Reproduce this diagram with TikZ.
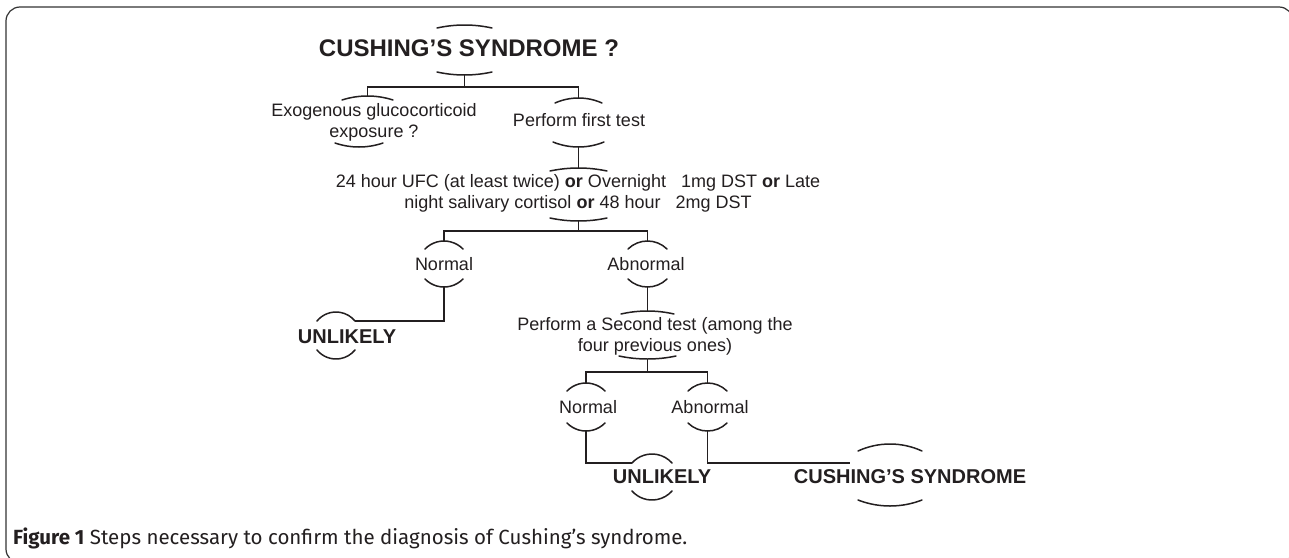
\documentclass[tikz,border=0pt]{standalone}
\usepackage{fontspec}
\setmainfont{Liberation Sans}
\newfontfamily\capfont[Ligatures=TeX]{Fira Sans}
\definecolor{ink}{HTML}{231F20}
\newcommand{\xarc}[4]{%
  \pgfmathsetmacro\xah{(#2-#1)/2}%
  \pgfmathsetmacro\xas{abs(#4-#3)}%
  \pgfmathsetmacro\xar{(\xah*\xah+\xas*\xas)/(2*\xas)}%
  \pgfmathsetmacro\xaa{asin(\xah/\xar)}%
  \pgfmathsetmacro\xab{(#4<#3) ? 270 : 90}%
  \pgfmathsetmacro\xsg{(#4<#3) ? -1 : 1}%
  \draw[arcln] (#1,#3) arc[start angle={\xab+\xsg*\xaa}, end angle={\xab-\xsg*\xaa}, radius=\xar];}
\begin{document}
\begin{tikzpicture}[x=1pt,y=-1pt,
  arcln/.style={line width=1.5pt, line cap=round, ink},
  conn/.style={line width=1.5pt, ink},
  txt/.style={font=\fontsize{18}{21}\selectfont, align=center, inner sep=0pt, text=ink},
  big/.style={font=\bfseries\fontsize{20}{24}\selectfont, inner sep=0pt, text=ink}]
\useasboundingbox (0,0) rectangle (1289,557);
\fill[white] (0,0) rectangle (1289,557);
\draw[line width=1.2pt, black!80, rounded corners=14pt] (6,7) rectangle (1293,563);

% title
\node[font=\bfseries\fontsize{24}{28}\selectfont, inner sep=0pt, text=ink] (title) at (469,48) {CUSHING'S SYNDROME ?};
\xarc{437}{492}{28}{25}
\xarc{437}{492}{72}{75}
\coordinate (tB) at (464.5,75);
\coordinate (j1) at (464.5,87);

% exogenous
\node[txt] (exo) at (374,122.5) {Exogenous glucocorticoid\\exposure ?};
\xarc{342}{393}{100}{96}
\xarc{335}{383}{143}{147}
\coordinate (exoT) at (367.5,96);

% perform first test
\node[txt] (first) at (579,120) {Perform first test};
\xarc{555}{602}{103}{98}
\xarc{553}{604}{142}{147}
\coordinate (firstT) at (578.5,98);
\coordinate (firstB) at (578.5,147);

\draw[conn] (tB) -- (j1);
\draw[conn] (exoT) |- (j1) -| (firstT);

% tests
\xarc{550}{607}{171}{168}
\coordinate (testT) at (578.5,168);
\draw[conn] (firstB) -- (testT);
\node[txt] (tests) at (578,193.5) {24 hour UFC (at least twice) \textbf{or} Overnight~~~1mg DST \textbf{or} Late\\night salivary cortisol \textbf{or} 48 hour~~~2mg DST};
\xarc{550}{607}{218}{221}
\coordinate (testB) at (578.5,221);
\coordinate (j2) at (578.5,231);
\draw[conn] (testB) -- (j2);

% first Normal / Abnormal
\xarc{425}{463}{249}{241}
\coordinate (n1T) at (444,241);
\node[txt] (n1) at (444,264) {Normal};
\xarc{425}{463}{279}{287}
\coordinate (n1B) at (444,287);

\xarc{628}{667}{249}{241}
\coordinate (a1T) at (647.5,241);
\node[txt] (a1) at (646,264) {Abnormal};
\xarc{628}{667}{279}{287}
\coordinate (a1B) at (647.5,287);

\draw[conn] (n1T) |- (j2) -| (a1T);

% left UNLIKELY
\xarc{317}{355}{321}{312}
\coordinate (u1R) at (355,321);
\node[big] (u1) at (347,337) {UNLIKELY};
\xarc{317}{355}{350}{359}
\draw[conn] (n1B) |- (u1R);

% second test
\xarc{621}{674}{314}{311}
\coordinate (s2T) at (647.5,311);
\draw[conn] (a1B) -- (s2T);
\node[txt] (second) at (655,336.5) {Perform a Second test (among the\\four previous ones)};
\xarc{619}{676}{356}{359}
\coordinate (s2B) at (647.5,359);
\coordinate (j3) at (647.5,372);
\draw[conn] (s2B) -- (j3);

% second Normal / Abnormal
\xarc{567}{605}{391}{383}
\coordinate (n2T) at (586,383);
\node[txt] (n2) at (588,407) {Normal};
\xarc{567}{605}{423}{431}
\coordinate (n2B) at (586,431);

\xarc{688}{727}{391}{383}
\coordinate (a2T) at (707.5,383);
\node[txt] (a2) at (710,407) {Abnormal};
\xarc{688}{727}{423}{431}
\coordinate (a2B) at (707.5,431);

\draw[conn] (n2T) |- (j3) -| (a2T);

% bottom UNLIKELY
\xarc{632}{672}{463}{454}
\coordinate (u2L) at (632,463);
\node[big] (u2) at (662,477) {UNLIKELY};
\xarc{632}{672}{491}{500}
\draw[conn] (n2B) |- (u2L);

% final Cushing's syndrome
\xarc{858}{922}{451}{444}
\coordinate (cE) at (850,463);
\node[big] (cs) at (910,477) {CUSHING'S SYNDROME};
\xarc{858}{922}{500}{506}
\draw[conn] (a2B) |- (cE);

% caption
\node[anchor=west, inner sep=0pt, text=ink, font=\capfont\fontsize{20.5}{23}\selectfont] (cap) at (13,538) {\textbf{Figure 1} Steps necessary to confirm the diagnosis of Cushing’s syndrome.};
\end{tikzpicture}
\end{document}
